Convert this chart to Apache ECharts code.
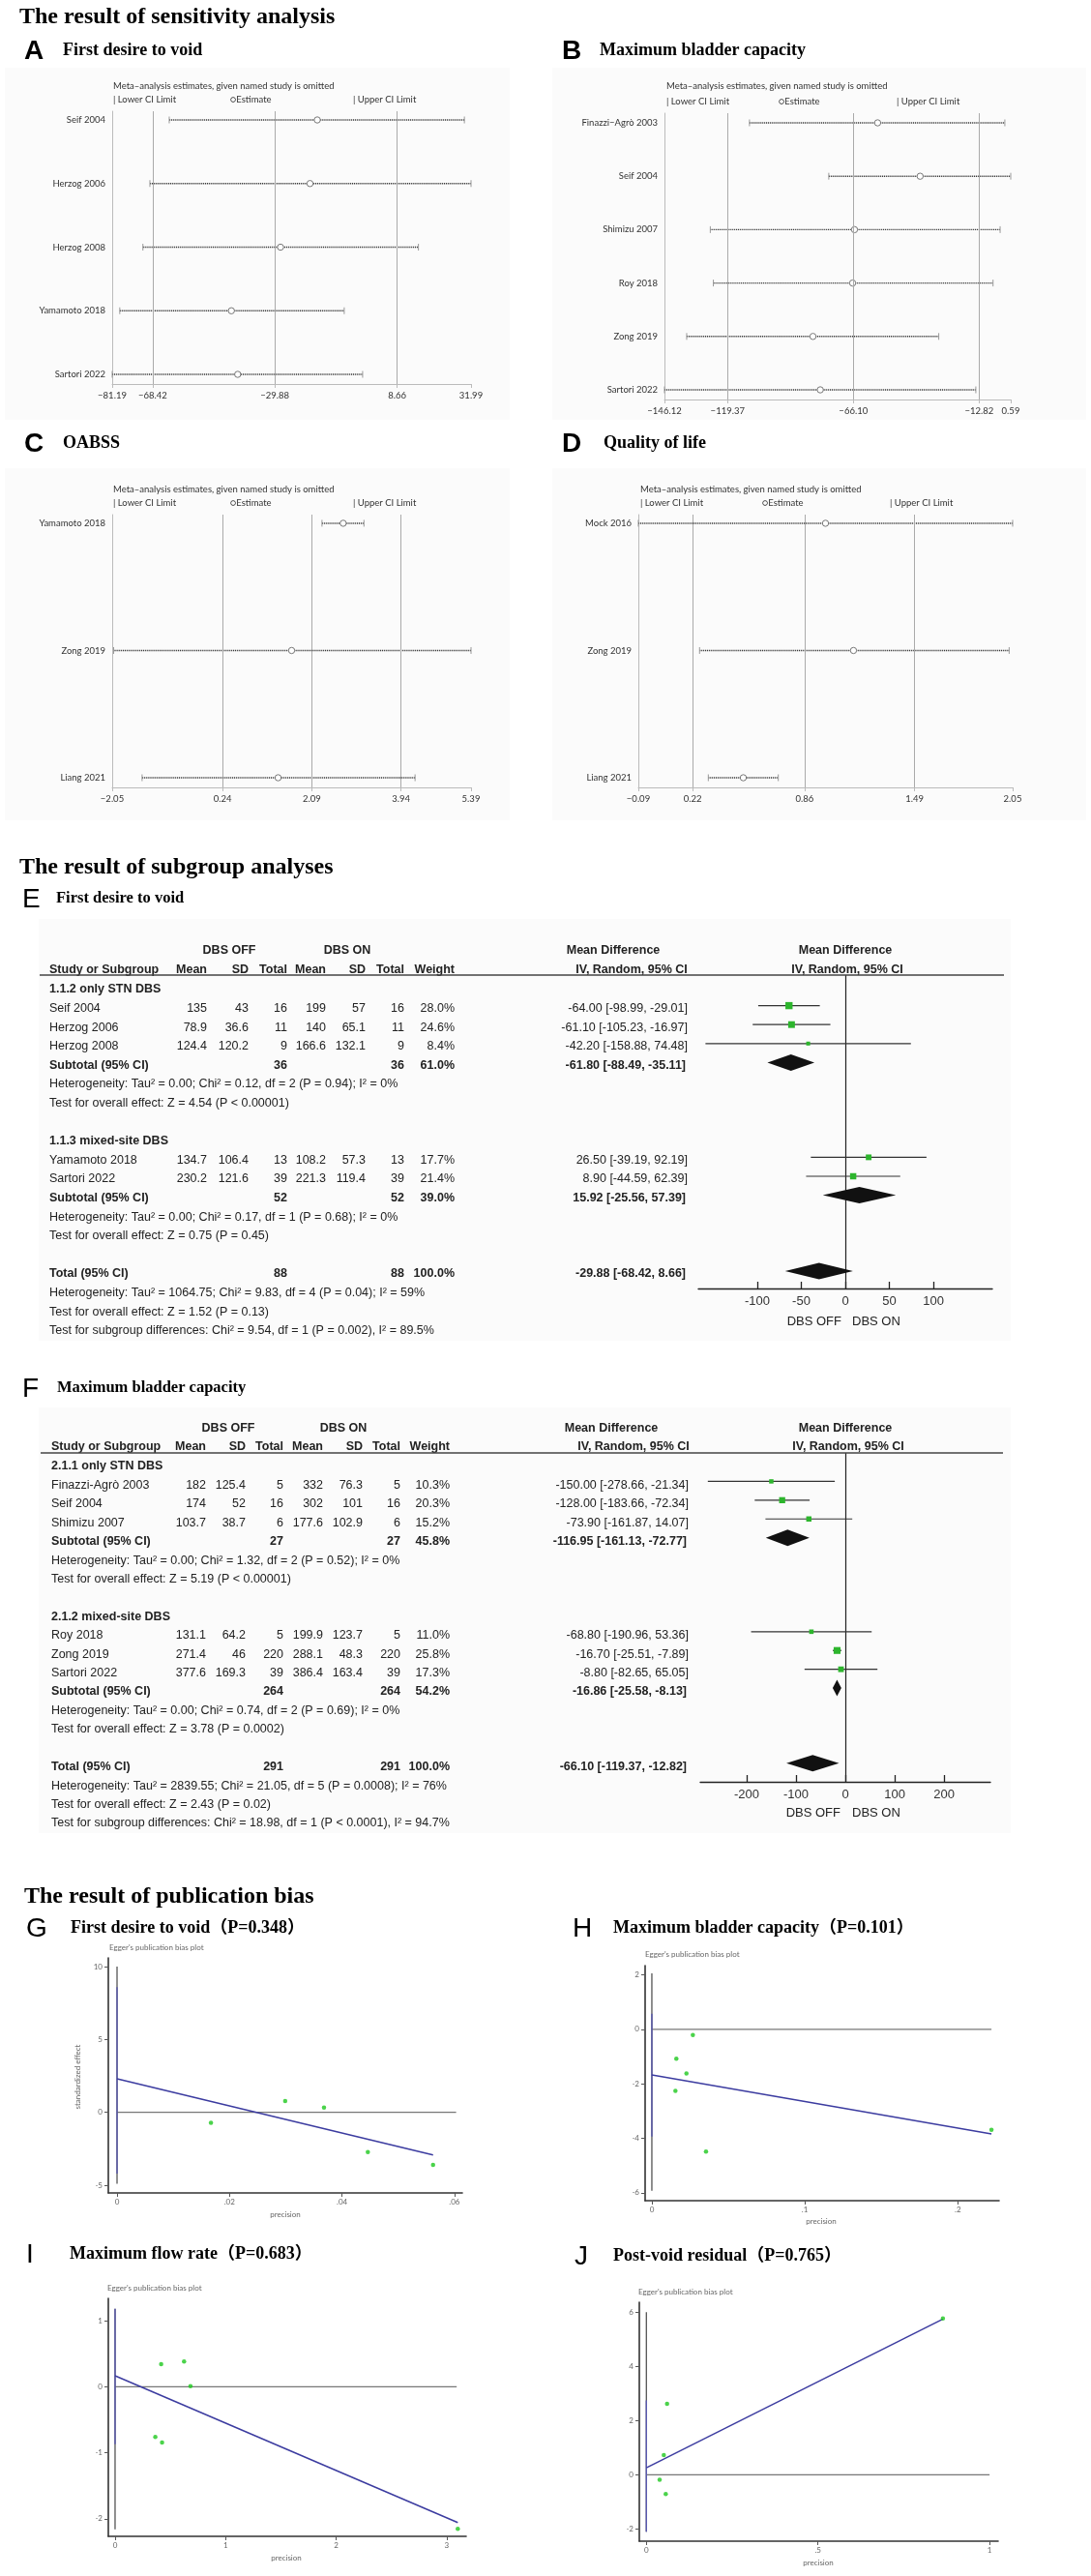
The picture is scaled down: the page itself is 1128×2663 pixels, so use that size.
<!DOCTYPE html>
<html><head><meta charset="utf-8">
<script src="https://cdn.jsdelivr.net/npm/echarts@6/dist/echarts.min.js"></script>
<style>html,body{margin:0;padding:0;background:#fff}#c{width:1128px;height:2663px}</style>
</head><body><div id="c"></div>
<script>
// ================= DATA =================
// Sensitivity analysis (leave-one-out)
const sensA_studies = ['Seif 2004','Herzog 2006','Herzog 2008','Yamamoto 2018','Sartori 2022'];
const sensA_lower = [-63.2,-69.3,-71.5,-78.8,-81.19];
const sensA_est   = [-16.5,-18.8,-28.1,-43.6,-41.6];
const sensA_upper = [29.9,31.99,15.4,-8.0,-2.2];
const sensA_ticks = [-81.19,-68.42,-29.88,8.66,31.99];

const sensB_studies = ['Finazzi\u2212Agrò 2003','Seif 2004','Shimizu 2007','Roy 2018','Zong 2019','Sartori 2022'];
const sensB_lower = [-110.1,-76.5,-126.7,-125.4,-136.7,-146.12];
const sensB_est   = [-55.8,-37.8,-65.6,-66.4,-83.2,-80.1];
const sensB_upper = [-1.9,0.59,-3.9,-6.9,-29.9,-14.2];
const sensB_ticks = [-146.12,-119.37,-66.10,-12.82,0.59];

const sensC_studies = ['Yamamoto 2018','Zong 2019','Liang 2021'];
const sensC_lower = [2.30,-2.02,-1.43];
const sensC_est   = [2.74,1.67,1.39];
const sensC_upper = [3.17,5.39,4.23];
const sensC_ticks = [-2.05,0.24,2.09,3.94,5.39];

const sensD_studies = ['Mock 2016','Zong 2019','Liang 2021'];
const sensD_lower = [-0.09,0.26,0.31];
const sensD_est   = [0.98,1.14,0.51];
const sensD_upper = [2.05,2.03,0.71];
const sensD_ticks = [-0.09,0.22,0.86,1.49,2.05];

// Subgroup E: First desire to void
const tabE_groups = ['1.1.2 only STN DBS','1.1.3 mixed-site DBS'];
const tabE_groupSize = [3,2];
const tabE_study = ['Seif 2004','Herzog 2006','Herzog 2008','Yamamoto 2018','Sartori 2022'];
const tabE_offMean = [135,78.9,124.4,134.7,230.2];
const tabE_offSD = [43,36.6,120.2,106.4,121.6];
const tabE_offN = [16,11,9,13,39];
const tabE_onMean = [199,140,166.6,108.2,221.3];
const tabE_onSD = [57,65.1,132.1,57.3,119.4];
const tabE_onN = [16,11,9,13,39];
const tabE_weight = [28.0,24.6,8.4,17.7,21.4];
const tabE_md = [-64.00,-61.10,-42.20,26.50,8.90];
const tabE_lo = [-98.99,-105.23,-158.88,-39.19,-44.59];
const tabE_hi = [-29.01,-16.97,74.48,92.19,62.39];
const tabE_subN = [36,52];
const tabE_subW = [61.0,39.0];
const tabE_subMd = [-61.80,15.92];
const tabE_subLo = [-88.49,-25.56];
const tabE_subHi = [-35.11,57.39];
const tabE_subNotes = [
  ['Heterogeneity: Tau² = 0.00; Chi² = 0.12, df = 2 (P = 0.94); I² = 0%','Test for overall effect: Z = 4.54 (P < 0.00001)'],
  ['Heterogeneity: Tau² = 0.00; Chi² = 0.17, df = 1 (P = 0.68); I² = 0%','Test for overall effect: Z = 0.75 (P = 0.45)']
];
const tabE_tot = [88,88,100.0,-29.88,-68.42,8.66];
const tabE_totNotes = ['Heterogeneity: Tau² = 1064.75; Chi² = 9.83, df = 4 (P = 0.04); I² = 59%','Test for overall effect: Z = 1.52 (P = 0.13)','Test for subgroup differences: Chi² = 9.54, df = 1 (P = 0.002), I² = 89.5%'];
const tabE_ticks = [-100,-50,0,50,100];

// Subgroup F: Maximum bladder capacity
const tabF_groups = ['2.1.1 only STN DBS','2.1.2 mixed-site DBS'];
const tabF_groupSize = [3,3];
const tabF_study = ['Finazzi-Agrò 2003','Seif 2004','Shimizu 2007','Roy 2018','Zong 2019','Sartori 2022'];
const tabF_offMean = [182,174,103.7,131.1,271.4,377.6];
const tabF_offSD = [125.4,52,38.7,64.2,46,169.3];
const tabF_offN = [5,16,6,5,220,39];
const tabF_onMean = [332,302,177.6,199.9,288.1,386.4];
const tabF_onSD = [76.3,101,102.9,123.7,48.3,163.4];
const tabF_onN = [5,16,6,5,220,39];
const tabF_weight = [10.3,20.3,15.2,11.0,25.8,17.3];
const tabF_md = [-150.00,-128.00,-73.90,-68.80,-16.70,-8.80];
const tabF_lo = [-278.66,-183.66,-161.87,-190.96,-25.51,-82.65];
const tabF_hi = [-21.34,-72.34,14.07,53.36,-7.89,65.05];
const tabF_subN = [27,264];
const tabF_subW = [45.8,54.2];
const tabF_subMd = [-116.95,-16.86];
const tabF_subLo = [-161.13,-25.58];
const tabF_subHi = [-72.77,-8.13];
const tabF_subNotes = [
  ['Heterogeneity: Tau² = 0.00; Chi² = 1.32, df = 2 (P = 0.52); I² = 0%','Test for overall effect: Z = 5.19 (P < 0.00001)'],
  ['Heterogeneity: Tau² = 0.00; Chi² = 0.74, df = 2 (P = 0.69); I² = 0%','Test for overall effect: Z = 3.78 (P = 0.0002)']
];
const tabF_tot = [291,291,100.0,-66.10,-119.37,-12.82];
const tabF_totNotes = ['Heterogeneity: Tau² = 2839.55; Chi² = 21.05, df = 5 (P = 0.0008); I² = 76%','Test for overall effect: Z = 2.43 (P = 0.02)','Test for subgroup differences: Chi² = 18.98, df = 1 (P < 0.0001), I² = 94.7%'];
const tabF_ticks = [-200,-100,0,100,200];

// Egger plots
const egG_x = [0.0167,0.0299,0.0368,0.0446,0.0562];
const egG_y = [-0.71,0.77,0.33,-2.72,-3.60];
const egG_reg = [[0,2.30],[0.0562,-2.93]];
const egG_zeroEnd = 0.0603;
const egG_span = [10,-4.9];
const egG_ci = [8.6,-4.2];
const egG_xt = [0,0.02,0.04,0.06];
const egG_yt = [-5,0,5,10];

const egH_x = [0.0268,0.0160,0.0226,0.0154,0.0354,0.222];
const egH_y = [-0.21,-1.08,-1.62,-2.26,-4.49,-3.69];
const egH_reg = [[0,-1.67],[0.222,-3.84]];
const egH_zeroEnd = 0.222;
const egH_span = [2.06,-5.93];
const egH_ci = [0.57,-3.94];
const egH_xt = [0,0.1,0.2];
const egH_yt = [-6,-4,-2,0,2];

const egI_x = [0.417,0.624,0.682,0.364,0.425,3.10];
const egI_y = [0.34,0.38,0.01,-0.76,-0.845,-2.15];
const egI_reg = [[0,0.165],[3.1,-2.056]];
const egI_zeroEnd = 3.09;
const egI_span = [1.18,-2.16];
const egI_ci = [1.18,-0.87];
const egI_xt = [0,1,2,3];
const egI_yt = [-2,-1,0,1];

const egJ_x = [0.0603,0.0508,0.0386,0.0564,0.864];
const egJ_y = [2.62,0.725,-0.18,-0.71,5.77];
const egJ_reg = [[0,0.26],[0.864,5.75]];
const egJ_zeroEnd = 1.0;
const egJ_span = [6,-2.1];
const egJ_ci = [2.75,-2.1];
const egJ_xt = [0,0.5,1];
const egJ_yt = [-2,0,2,4,6];

// ================= BUILD =================
const SANS = "'Liberation Sans', Arial, sans-serif";
const SERIF = "'Liberation Serif', 'Times New Roman', 'Noto Sans CJK SC', serif";
const SMALL = "Lato, 'Open Sans', 'DejaVu Sans', sans-serif";

const grids = [], xAxes = [], yAxes = [], series = [], graphics = [];
function txt(x, y, text, o) {
  return {type:'text', x:x, y:y, silent:true, z:10,
    style:Object.assign({text:text, fill:'#000', fontSize:12, fontFamily:SANS, align:'left', verticalAlign:'middle'}, o || {})};
}
function hline(x1, x2, y, color, w) {
  return {type:'line', silent:true, z:10, shape:{x1:x1, y1:y, x2:x2, y2:y}, style:{stroke:color, lineWidth:w}};
}
function bg(x, y, w, h) {
  return {type:'rect', silent:true, z:-10, shape:{x:x, y:y, width:w, height:h}, style:{fill:'#fbfbfb'}};
}
function gridOf(o) { return Object.assign({containLabel:false, outerBoundsMode:'none', show:false}, o); }

// Section titles & panel labels
const titleStyle = {fontSize:24, fontWeight:'bold', fontFamily:SERIF};
graphics.push(txt(20, 18, 'The result of sensitivity analysis', titleStyle));
graphics.push(txt(20, 897, 'The result of subgroup analyses', titleStyle));
graphics.push(txt(25, 1961, 'The result of publication bias', titleStyle));
function panel(letter, lx, title, tx, y, bold, size) {
  graphics.push(txt(lx, y + 1, letter, {fontSize:28, fontFamily:SANS, fontWeight: bold ? 'bold' : 'normal'}));
  graphics.push(txt(tx, y, title, {fontSize:size, fontWeight:'bold', fontFamily:SERIF}));
}
panel('A', 25, 'First desire to void', 65, 52, true, 18);
panel('B', 581, 'Maximum bladder capacity', 620, 52, true, 18);
panel('C', 25, 'OABSS', 65, 458, true, 18);
panel('D', 581, 'Quality of life', 624, 458, true, 18);
panel('E', 23, 'First desire to void', 58, 929, false, 16.5);
panel('F', 23, 'Maximum bladder capacity', 59, 1435, false, 16.5);
panel('G', 27, 'First desire to void（P=0.348）', 73, 1993, false, 18);
panel('H', 592, 'Maximum bladder capacity（P=0.101）', 634, 1993, false, 18);
panel('I', 27, 'Maximum flow rate（P=0.683）', 72, 2330, false, 18);
panel('J', 594, 'Post-void residual（P=0.765）', 634, 2332, false, 18);

// background boxes
graphics.push(bg(5, 70, 522, 364), bg(571, 70, 552, 364), bg(5, 484, 522, 364), bg(571, 484, 552, 364));
graphics.push(bg(40, 950, 1005, 436), bg(40, 1455, 1005, 440));

// ---------- Sensitivity panels ----------
function fmtMinus(v) { return (v < 0 ? '\u2212' : '') + Math.abs(v).toFixed(2); }
function sensRender(params, api) {
  const r = api.value(3);
  const lo = api.coord([api.value(0), r]), es = api.coord([api.value(1), r]), hi = api.coord([api.value(2), r]);
  return {type:'group', children:[
    {type:'line', shape:{x1:lo[0], y1:lo[1], x2:hi[0], y2:hi[1]}, style:{stroke:'#3a3a3a', lineWidth:1.4, lineDash:[1.1,0.8]}},
    {type:'line', shape:{x1:lo[0], y1:lo[1]-3.5, x2:lo[0], y2:lo[1]+3.5}, style:{stroke:'#999', lineWidth:1}},
    {type:'line', shape:{x1:hi[0], y1:hi[1]-3.5, x2:hi[0], y2:hi[1]+3.5}, style:{stroke:'#999', lineWidth:1}},
    {type:'circle', shape:{cx:es[0], cy:es[1], r:3.2}, style:{stroke:'#777', fill:'#fff', lineWidth:1}}
  ]};
}
const sensData = [
  {studies:sensA_studies, lower:sensA_lower, est:sensA_est, upper:sensA_upper, ticks:sensA_ticks},
  {studies:sensB_studies, lower:sensB_lower, est:sensB_est, upper:sensB_upper, ticks:sensB_ticks},
  {studies:sensC_studies, lower:sensC_lower, est:sensC_est, upper:sensC_upper, ticks:sensC_ticks},
  {studies:sensD_studies, lower:sensD_lower, est:sensD_est, upper:sensD_upper, ticks:sensD_ticks}
];
const sensLayout = [
  {grid:{left:116, top:115, width:371, height:282}, ymin:-0.137, ymax:4.152, lg:[117, 89, 103, 117, 238, 365]},
  {grid:{left:687, top:117, width:358, height:296}, ymin:-0.181, ymax:5.181, lg:[689, 89, 105, 689, 805, 927]},
  {grid:{left:116, top:532, width:371, height:282}, ymin:-0.068, ymax:2.076, lg:[117, 506, 520, 117, 238, 365]},
  {grid:{left:660, top:532, width:387, height:282}, ymin:-0.068, ymax:2.076, lg:[662, 506, 520, 662, 788, 920]}
];
sensData.forEach(function (d, i) {
  const L = sensLayout[i];
  const gi = grids.length;
  grids.push(gridOf(L.grid));
  xAxes.push({gridIndex:gi, type:'value', min:d.ticks[0], max:d.ticks[4],
    axisLine:{onZero:false, lineStyle:{color:'#bbb', width:1}},
    axisTick:{customValues:d.ticks, length:4, lineStyle:{color:'#bbb'}},
    axisLabel:{customValues:d.ticks, formatter:fmtMinus, fontSize:9.5, color:'#333', margin:7, fontFamily:SMALL, hideOverlap:false},
    splitLine:{show:false}});
  yAxes.push({gridIndex:gi, type:'value', inverse:true, min:L.ymin, max:L.ymax,
    axisLine:{show:true, onZero:false, lineStyle:{color:'#bbb', width:1}},
    axisTick:{show:false}, splitLine:{show:false},
    axisLabel:{customValues:d.studies.map(function (s, k) { return k; }), formatter:function (v) { return d.studies[Math.round(v)]; },
      fontSize:9.5, color:'#333', margin:7, fontFamily:SMALL, hideOverlap:false}});
  series.push({type:'custom', xAxisIndex:gi, yAxisIndex:gi, renderItem:sensRender, encode:{x:[0,1,2], y:3}, silent:true,
    data:d.studies.map(function (s, k) { return [d.lower[k], d.est[k], d.upper[k], k]; }),
    markLine:{silent:true, symbol:['none','none'], label:{show:false}, lineStyle:{color:'#aaa', type:'solid', width:1},
      data:[{xAxis:d.ticks[1]}, {xAxis:d.ticks[2]}, {xAxis:d.ticks[3]}]}});
  const sm = {fontSize:9.5, fontFamily:SMALL, fill:'#333'};
  graphics.push(txt(L.lg[0], L.lg[1], 'Meta\u2013analysis estimates, given named study is omitted', sm));
  graphics.push(txt(L.lg[3], L.lg[2], '| Lower CI Limit', sm));
  graphics.push(txt(L.lg[4], L.lg[2], '\u25CBEstimate', sm));
  graphics.push(txt(L.lg[5], L.lg[2], '| Upper CI Limit', sm));
});

// ---------- Subgroup forest tables ----------
function ciStr(m, l, h) { return m.toFixed(2) + ' [' + l.toFixed(2) + ', ' + h.toFixed(2) + ']'; }
function studyRender(params, api) {
  const y = api.value(3);
  const pc = api.coord([api.value(0), y]), p0 = api.coord([api.value(1), y]), p1 = api.coord([api.value(2), y]);
  const s = Math.sqrt(api.value(4)) * 1.4;
  return {type:'group', children:[
    {type:'line', shape:{x1:p0[0], y1:p0[1], x2:p1[0], y2:p1[1]}, style:{stroke:'#333', lineWidth:1.2}},
    {type:'rect', shape:{x:pc[0]-s/2, y:pc[1]-s/2, width:s, height:s}, style:{fill:'#2db52d'}}
  ]};
}
function diamondRender(params, api) {
  const y = api.value(3);
  const c = api.coord([api.value(0), y]), l = api.coord([api.value(1), y]), r = api.coord([api.value(2), y]);
  const h = 8.5;
  return {type:'polygon', shape:{points:[[l[0], l[1]], [c[0], c[1]-h], [r[0], r[1]], [c[0], c[1]+h]]}, style:{fill:'#111'}};
}
function buildForest(D, L) {
  const S = {fontSize:12.5, fontFamily:SANS, fill:'#222'};
  const B = Object.assign({}, S, {fontWeight:'bold'});
  const put = function (s, x, y, st, align) { graphics.push(txt(x, y, s, Object.assign({}, st, {align:align || 'left'}))); };
  const ty = function (line) { return L.textTop + line * L.pitch; };
  // headers
  put('DBS OFF', L.h1[0], L.hy1, B, 'center');
  put('DBS ON', L.h1[1], L.hy1, B, 'center');
  put('Mean Difference', L.h1[2], L.hy1, B, 'center');
  put('Mean Difference', L.h1[3], L.hy1, B, 'center');
  put('Study or Subgroup', L.nameX, L.hy2, B);
  ['Mean','SD','Total','Mean','SD','Total','Weight'].forEach(function (h, c) { put(h, L.cols[c], L.hy2, B, 'right'); });
  put('IV, Random, 95% CI', L.iv[0], L.hy2, B, 'center');
  put('IV, Random, 95% CI', L.iv[1], L.hy2, B, 'center');
  graphics.push(hline(L.ulX[0], L.ulX[1], L.ulY, '#444', 1.6));
  const studyData = [], diaData = [];
  let line = 0, k = 0;
  D.groupSize.forEach(function (n, g) {
    put(D.groups[g], L.nameX, ty(line), B); line++;
    for (let j = 0; j < n; j++, k++) {
      const y = ty(line);
      put(D.study[k], L.nameX, y, S);
      [D.offMean[k], D.offSD[k], D.offN[k], D.onMean[k], D.onSD[k], D.onN[k]].forEach(function (v, c) { put(String(v), L.cols[c], y, S, 'right'); });
      put(D.weight[k].toFixed(1) + '%', L.cols[6], y, S, 'right');
      put(ciStr(D.md[k], D.lo[k], D.hi[k]), L.ciX, y, S, 'right');
      studyData.push([D.md[k], D.lo[k], D.hi[k], line, D.weight[k]]);
      line++;
    }
    const y = ty(line);
    put('Subtotal (95% CI)', L.nameX, y, B);
    put(String(D.subN[g]), L.cols[2], y, B, 'right');
    put(String(D.subN[g]), L.cols[5], y, B, 'right');
    put(D.subW[g].toFixed(1) + '%', L.cols[6], y, B, 'right');
    put(ciStr(D.subMd[g], D.subLo[g], D.subHi[g]), L.ciX - 2, y, B, 'right');
    diaData.push([D.subMd[g], D.subLo[g], D.subHi[g], line]);
    line++;
    D.subNotes[g].forEach(function (t) { put(t, L.nameX, ty(line), S); line++; });
    line++;
  });
  const y = ty(line);
  put('Total (95% CI)', L.nameX, y, B);
  put(String(D.tot[0]), L.cols[2], y, B, 'right');
  put(String(D.tot[1]), L.cols[5], y, B, 'right');
  put(D.tot[2].toFixed(1) + '%', L.cols[6], y, B, 'right');
  put(ciStr(D.tot[3], D.tot[4], D.tot[5]), L.ciX - 2, y, B, 'right');
  diaData.push([D.tot[3], D.tot[4], D.tot[5], line]);
  line++;
  D.totNotes.forEach(function (t) { put(t, L.nameX, ty(line), S); line++; });
  // forest plot grid
  const gi = grids.length;
  grids.push(gridOf(L.grid));
  xAxes.push({gridIndex:gi, type:'value', min:L.xr[0], max:L.xr[1],
    axisLine:{onZero:false, lineStyle:{color:'#222', width:1.3}},
    axisTick:{customValues:D.ticks, inside:true, length:7, lineStyle:{color:'#222', width:1.3}},
    axisLabel:{customValues:D.ticks, fontSize:13, color:'#333', margin:7, fontFamily:SANS, hideOverlap:false},
    splitLine:{show:false}});
  yAxes.push({gridIndex:gi, type:'value', inverse:true, min:L.yr[0], max:L.yr[1], show:false, axisLine:{onZero:false}});
  series.push({type:'custom', xAxisIndex:gi, yAxisIndex:gi, renderItem:studyRender, encode:{x:[0,1,2], y:3}, data:studyData, silent:true, z:5,
    markLine:{silent:true, symbol:['none','none'], label:{show:false}, lineStyle:{color:'#222', type:'solid', width:1.2}, data:[{xAxis:0}]}});
  series.push({type:'custom', xAxisIndex:gi, yAxisIndex:gi, renderItem:diamondRender, encode:{x:[0,1,2], y:3}, data:diaData, silent:true, z:6});
  put('DBS OFF', L.dbs[0], L.dbs[2], Object.assign({}, S, {fontSize:13}), 'right');
  put('DBS ON', L.dbs[1], L.dbs[2], Object.assign({}, S, {fontSize:13}), 'left');
}
buildForest(
  {groups:tabE_groups, groupSize:tabE_groupSize, study:tabE_study, offMean:tabE_offMean, offSD:tabE_offSD, offN:tabE_offN,
   onMean:tabE_onMean, onSD:tabE_onSD, onN:tabE_onN, weight:tabE_weight, md:tabE_md, lo:tabE_lo, hi:tabE_hi,
   subN:tabE_subN, subW:tabE_subW, subMd:tabE_subMd, subLo:tabE_subLo, subHi:tabE_subHi, subNotes:tabE_subNotes,
   tot:tabE_tot, totNotes:tabE_totNotes, ticks:tabE_ticks},
  {textTop:1023, pitch:19.6, hy1:983, hy2:1003, h1:[237,359,634,874], iv:[653,876], nameX:51,
   cols:[214,257,297,337,378,418,470], ciX:711, ulX:[41,1038], ulY:1008,
   grid:{left:722, top:1008, width:304, height:324}, xr:[-167,167], yr:[-0.612,15.918], dbs:[870,881,1366]});
buildForest(
  {groups:tabF_groups, groupSize:tabF_groupSize, study:tabF_study, offMean:tabF_offMean, offSD:tabF_offSD, offN:tabF_offN,
   onMean:tabF_onMean, onSD:tabF_onSD, onN:tabF_onN, weight:tabF_weight, md:tabF_md, lo:tabF_lo, hi:tabF_hi,
   subN:tabF_subN, subW:tabF_subW, subMd:tabF_subMd, subLo:tabF_subLo, subHi:tabF_subHi, subNotes:tabF_subNotes,
   tot:tabF_tot, totNotes:tabF_totNotes, ticks:tabF_ticks},
  {textTop:1516, pitch:19.42, hy1:1477, hy2:1496, h1:[236,355,632,874], iv:[655,877], nameX:53,
   cols:[213,254,293,334,375,414,465], ciX:712, ulX:[42,1037], ulY:1502,
   grid:{left:724, top:1502, width:300, height:340}, xr:[-294,294], yr:[-0.515,16.99], dbs:[869,881,1874]});

// ---------- Egger plots ----------
function xfmt(v) { if (v === 0) return '0'; return Math.abs(v) < 1 ? String(v).replace('0.', '.') : String(v); }
function egger(d, L) {
  const gi = grids.length;
  grids.push(gridOf(L.grid));
  const lab = {fontSize:8, color:'#666', fontFamily:SMALL, hideOverlap:false};
  xAxes.push({gridIndex:gi, type:'value', min:L.xr[0], max:L.xr[1],
    axisLine:{onZero:false, lineStyle:{color:'#333', width:1.6}},
    axisTick:{customValues:d.xt, length:4, lineStyle:{color:'#555', width:1}},
    axisLabel:Object.assign({customValues:d.xt, formatter:xfmt, margin:5}, lab), splitLine:{show:false}});
  yAxes.push({gridIndex:gi, type:'value', min:L.yr[0], max:L.yr[1],
    axisLine:{onZero:false, lineStyle:{color:'#333', width:1.6}},
    axisTick:{customValues:d.yt, length:4, lineStyle:{color:'#555', width:1}},
    axisLabel:Object.assign({customValues:d.yt, formatter:function (v) { return String(v); }, margin:6}, lab), splitLine:{show:false}});
  const base = {xAxisIndex:gi, yAxisIndex:gi, silent:true, animation:false};
  series.push(Object.assign({type:'line', data:[[0,0],[d.zeroEnd,0]], showSymbol:false, symbol:'none', lineStyle:{color:'#777', width:1.3}, z:2}, base));
  series.push(Object.assign({type:'line', data:[[0,d.span[0]],[0,d.span[1]]], showSymbol:false, symbol:'none', lineStyle:{color:'#555', width:1.3}, z:3}, base));
  series.push(Object.assign({type:'line', data:[[0,d.ci[0]],[0,d.ci[1]]], showSymbol:false, symbol:'none', lineStyle:{color:'#5a5ab0', width:1.4}, z:4}, base));
  series.push(Object.assign({type:'line', data:d.reg, showSymbol:false, symbol:'none', lineStyle:{color:'#3c3ca0', width:1.5}, z:5}, base));
  series.push(Object.assign({type:'scatter', data:d.x.map(function (v, k) { return [v, d.y[k]]; }), symbolSize:4.5, itemStyle:{color:'#1ec81e'}, z:6}, base));
  graphics.push(txt(L.title[0], L.title[1], "Egger's publication bias plot", {fontSize:8, fill:'#666', fontFamily:SMALL}));
  graphics.push(txt(L.prec[0], L.prec[1], 'precision', {fontSize:8, fill:'#666', fontFamily:SMALL, align:'center'}));
}
egger({x:egG_x, y:egG_y, reg:egG_reg, zeroEnd:egG_zeroEnd, span:egG_span, ci:egG_ci, xt:egG_xt, yt:egG_yt},
  {grid:{left:112, top:2024, width:366, height:243}, xr:[-0.00155,0.0614], yr:[-5.53,10.6], title:[113,2013], prec:[295,2289]});
egger({x:egH_x, y:egH_y, reg:egH_reg, zeroEnd:egH_zeroEnd, span:egH_span, ci:egH_ci, xt:egH_xt, yt:egH_yt},
  {grid:{left:667, top:2032, width:366, height:243}, xr:[-0.0044,0.227], yr:[-6.29,2.34], title:[667,2020], prec:[849,2296]});
egger({x:egI_x, y:egI_y, reg:egI_reg, zeroEnd:egI_zeroEnd, span:egI_span, ci:egI_ci, xt:egI_xt, yt:egI_yt},
  {grid:{left:112, top:2376, width:370, height:246}, xr:[-0.061,3.176], yr:[-2.265,1.337], title:[111,2365], prec:[296,2644]});
egger({x:egJ_x, y:egJ_y, reg:egJ_reg, zeroEnd:egJ_zeroEnd, span:egJ_span, ci:egJ_ci, xt:egJ_xt, yt:egJ_yt},
  {grid:{left:661, top:2380, width:371, height:247}, xr:[-0.0206,1.025], yr:[-2.45,6.37], title:[660,2369], prec:[846,2649]});
graphics.push({type:'text', x:80, y:2147, rotation:Math.PI/2, silent:true, z:10,
  style:{text:'standardized effect', fontSize:8, fill:'#666', fontFamily:SMALL, align:'center', verticalAlign:'middle'}});

const chart = echarts.init(document.getElementById('c'), null, {renderer:'canvas', width:1128, height:2663});
chart.setOption({
  backgroundColor:'#ffffff',
  animation:false,
  textStyle:{fontFamily:SANS},
  grid:grids, xAxis:xAxes, yAxis:yAxes, series:series,
  graphic:{elements:graphics}
});
</script></body></html>
